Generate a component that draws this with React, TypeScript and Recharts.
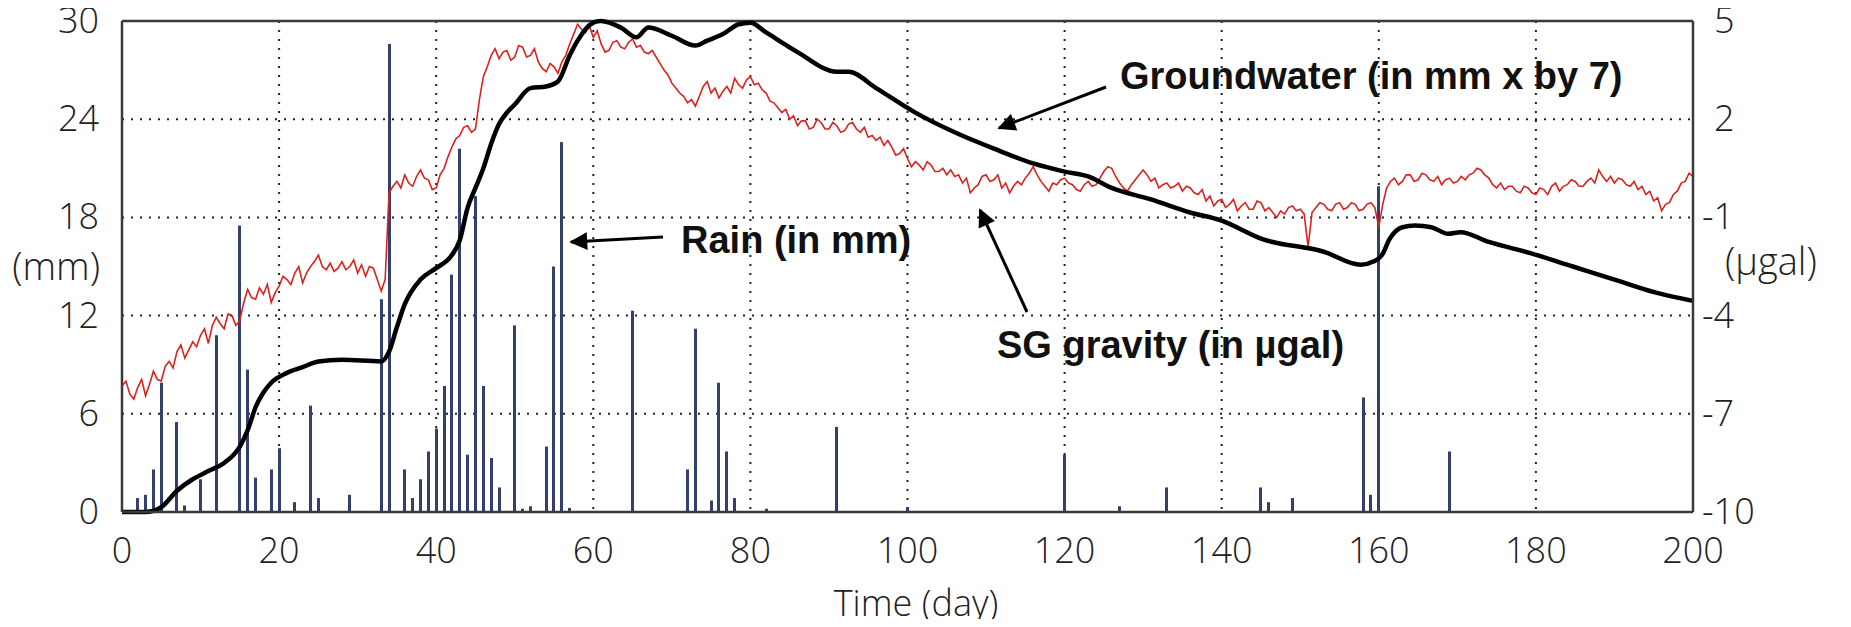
import { ComposedChart, Bar, Line, XAxis, YAxis, CartesianGrid, ReferenceLine } from 'recharts';

const W = 1851;
const H = 627;

const dayTicks = [0, 20, 40, 60, 80, 100, 120, 140, 160, 180, 200];
const mmTicks = [0, 6, 12, 18, 24, 30];
const ugalTicks = [-10, -7, -4, -1, 2, 5];

// daily rain (mm)
const rainDays = [
  2, 3, 4, 5, 7, 8, 10, 12, 15, 16, 17, 19, 20, 22, 24, 25, 29, 33, 34, 36,
  37, 38, 39, 40, 41, 42, 43, 44, 45, 46, 47, 48, 50, 51, 52, 54, 55, 56, 57, 65,
  72, 73, 75, 76, 77, 78, 82, 91, 100, 120, 127, 133, 145, 146, 149, 158, 159, 160, 169,
];
const rainMm = [
  0.85, 1.05, 2.6, 7.9, 5.5, 0.4, 2.0, 10.8, 17.5, 8.7, 2.1, 2.6, 3.9, 0.6, 6.5, 0.85, 1.05, 13.0, 28.6, 2.6,
  0.85, 2.0, 3.7, 5.1, 7.7, 14.5, 22.2, 3.5, 19.3, 7.7, 3.3, 1.5, 11.4, 0.2, 0.35, 4.0, 15.0, 22.6, 0.25, 12.3,
  2.6, 11.2, 0.7, 7.9, 3.7, 0.85, 0.2, 5.2, 0.3, 3.5, 0.35, 1.5, 1.5, 0.6, 0.85, 7.0, 1.05, 19.9, 3.7,
];

// groundwater (mm x 7, read on the left axis)
const gwDays = [
  0, 3, 5, 7, 9, 11, 13, 15, 16, 17, 18, 19, 21, 23, 25, 28, 33, 34, 35, 36, 38,
  40, 42, 43, 44, 45, 46, 47, 48, 49, 50, 52, 54, 55.5, 57, 58, 60, 61, 63.5, 65.5, 67,
  70, 73, 74.5, 76.5, 78.5, 80, 82, 86, 91, 92.5, 96, 101, 106, 111, 116, 120, 123, 126, 131, 136,
  140, 145, 153, 157.7, 159.3, 160.4, 161.4, 163, 164.6, 166.7, 168.8, 170.4, 174, 179.4, 184.7, 190, 195.3, 200,
];
const gwMm = [
  0, 0, 0.3, 1.3, 2.0, 2.5, 3.0, 4.0, 5.0, 6.4, 7.3, 7.9, 8.5, 8.85, 9.2, 9.3, 9.2, 9.8, 11.3, 12.7, 14.2,
  14.9, 15.7, 16.6, 18.6, 19.8, 21.0, 22.5, 23.7, 24.4, 24.9, 25.9, 26.0, 26.3, 27.9, 28.8, 29.9, 30.0, 29.6, 29.0, 29.6,
  29.1, 28.5, 28.8, 29.2, 29.8, 29.9, 29.3, 28.1, 26.9, 26.9, 25.9, 24.4, 23.2, 22.2, 21.3, 20.8, 20.5, 19.8, 19.1, 18.3,
  17.8, 16.7, 15.9, 15.1, 15.3, 15.7, 16.7, 17.4, 17.5, 17.4, 17.0, 17.1, 16.5, 15.8, 15.0, 14.2, 13.4, 12.9,
];

// SG gravity (µgal), every half day from day 0 to 200 (one row of 20 = 10 days)
const sgUgal = [
  -6.15, -6.0, -6.4, -6.55, -6.2, -5.95, -6.45, -6.1, -5.7, -5.95, -6.0, -5.55, -5.4, -5.6, -5.1, -4.9, -5.3, -5.05, -4.8, -4.95,
  -4.6, -4.4, -4.85, -4.3, -4.05, -4.25, -4.4, -3.95, -4.0, -4.3, -4.15, -3.6, -3.2, -3.45, -3.5, -3.15, -3.35, -3.05, -3.6, -3.3,
  -3.1, -2.8, -2.9, -3.05, -2.7, -2.5, -3.0, -2.7, -2.5, -2.35, -2.15, -2.5, -2.6, -2.4, -2.65, -2.55, -2.35, -2.6, -2.5, -2.3,
  -2.7, -2.45, -2.8, -2.5, -2.55, -2.9, -3.25, -2.9, -0.25, -0.05, 0.1, -0.1, 0.3, 0.05, -0.05, 0.25, 0.45, 0.2, 0.15, -0.15,
  -0.1, 0.3, 0.5, 0.85, 1.15, 1.4, 1.5, 1.75, 1.8, 1.6, 1.7, 2.6, 3.3, 3.6, 3.95, 4.15, 3.85, 4.05, 4.1, 3.8,
  3.9, 4.25, 4.2, 3.9, 3.95, 4.15, 3.75, 3.55, 3.45, 3.7, 3.6, 3.4, 3.75, 3.95, 4.3, 4.6, 4.9, 4.75, 4.65, 4.85,
  4.5, 4.7, 4.3, 4.05, 4.1, 4.35, 4.4, 4.2, 4.15, 4.35, 4.45, 4.2, 4.25, 4.05, 4.0, 4.1, 3.9, 3.7, 3.5, 3.35,
  3.1, 2.95, 2.8, 2.7, 2.5, 2.6, 2.4, 2.7, 3.0, 3.15, 2.8, 2.95, 2.65, 2.85, 3.0, 2.8, 3.25, 3.05, 2.95, 3.2,
  3.3, 3.05, 3.1, 2.9, 2.8, 2.55, 2.5, 2.35, 2.2, 2.3, 2.0, 2.1, 1.8, 1.95, 1.95, 1.7, 1.75, 2.0, 1.9, 1.7,
  1.7, 1.9, 1.8, 1.6, 1.65, 1.85, 1.9, 1.7, 1.6, 1.75, 1.45, 1.5, 1.35, 1.45, 1.2, 1.35, 1.15, 0.9, 0.95, 1.1,
  0.8, 0.55, 0.7, 0.6, 0.45, 0.7, 0.6, 0.4, 0.4, 0.5, 0.3, 0.45, 0.25, 0.3, 0.05, 0.2, -0.25, -0.1, 0.0, 0.25,
  0.3, 0.1, 0.15, 0.3, -0.1, 0.05, -0.25, -0.05, 0.1, 0.0, 0.2, 0.35, 0.55, 0.3, 0.1, -0.05, -0.2, 0.05, 0.0, 0.15,
  0.2, 0.05, 0.0, -0.15, -0.2, 0.0, 0.1, -0.05, 0.0, 0.2, 0.4, 0.55, 0.5, 0.25, 0.05, -0.1, -0.2, 0.0, 0.15, 0.3,
  0.45, 0.3, 0.1, 0.2, -0.1, 0.0, 0.05, -0.1, -0.05, 0.05, -0.2, -0.05, -0.1, -0.25, -0.3, -0.15, -0.5, -0.35, -0.65, -0.5,
  -0.45, -0.7, -0.6, -0.45, -0.8, -0.65, -0.55, -0.75, -0.75, -0.5, -0.55, -0.8, -0.7, -0.85, -1.0, -0.8, -0.9, -0.7, -0.65, -0.8,
  -0.75, -0.9, -1.9, -0.85, -0.7, -0.55, -0.6, -0.75, -0.8, -0.6, -0.55, -0.75, -0.7, -0.55, -0.6, -0.8, -0.75, -0.6, -0.55, -0.7,
  -1.3, -0.6, -0.1, 0.1, 0.2, 0.0, 0.1, 0.3, 0.3, 0.1, 0.15, 0.35, 0.3, 0.15, 0.1, 0.25, 0.0, 0.15, 0.2, 0.05,
  0.1, 0.25, 0.15, 0.3, 0.35, 0.5, 0.45, 0.3, 0.2, 0.0, -0.1, 0.05, -0.15, -0.05, -0.05, -0.2, -0.25, -0.05, -0.1, -0.25,
  -0.3, -0.1, -0.15, -0.3, -0.05, 0.05, -0.2, -0.05, 0.0, 0.15, 0.1, -0.05, -0.05, 0.1, 0.2, 0.05, 0.45, 0.25, 0.1, 0.25,
  0.05, 0.2, 0.15, 0.0, -0.05, 0.1, -0.15, -0.05, -0.3, -0.2, -0.5, -0.4, -0.8, -0.6, -0.55, -0.3, -0.2, 0.05, 0.1, 0.35,
  0.25,
];

const rainData = rainDays.map((day, i) => ({ day, rain: rainMm[i] }));
const gwData = gwDays.map((day, i) => ({ day, gw: gwMm[i] }));
const sgData = sgUgal.map((sg, i) => ({ day: i * 0.5, sg }));

const tickFont = "'Open Sans', 'Liberation Sans', sans-serif";
const boldFont = "'Liberation Sans', Arial, sans-serif";
const frame = '#3a3a3a';
const textColor = '#222';
const barColor = '#34406c';

const LeftTick = ({ x, y, payload }: any) => (
  <text x={x - 23} y={y + 12} textAnchor="end" fontSize={36} fontFamily={tickFont} fontWeight={300} fill={textColor}>
    {payload.value}
  </text>
);

const RightTick = ({ x, y, payload }: any) => (
  <text x={x + (payload.value > 0 ? 21 : 9)} y={y + 12} textAnchor="start" fontSize={36} fontFamily={tickFont} fontWeight={300} fill={textColor}>
    {payload.value}
  </text>
);

const BottomTick = ({ x, y, payload }: any) => (
  <text x={x} y={y + 51} textAnchor="middle" fontSize={36} fontFamily={tickFont} fontWeight={300} fill={textColor}>
    {payload.value}
  </text>
);

// thin rain stick, centred on the bar slot recharts gives
const RainStick = (props: any) => {
  const { x, y, width, height } = props;
  if (!height) return null;
  const cx = x + width / 2;
  return <rect x={Math.round(cx - 1.5)} y={y} width={3} height={height} fill={barColor} />;
};

export default function App() {
  return (
    <div style={{ position: 'relative', width: W, height: H, margin: -8 }}>
      <ComposedChart width={W} height={H} data={rainData} margin={{ top: 21, right: 0, bottom: 0, left: 0 }}>
        <CartesianGrid yAxisId="left" stroke="#222" strokeWidth={2} strokeDasharray="2 7" />
        <XAxis
          dataKey="day"
          type="number"
          domain={[0, 200]}
          ticks={dayTicks}
          height={115}
          tickSize={0}
          tickMargin={0}
          tick={<BottomTick />}
          axisLine={{ stroke: frame, strokeWidth: 2.5 }}
        />
        <YAxis
          yAxisId="left"
          domain={[0, 30]}
          ticks={mmTicks}
          width={122}
          tickSize={0}
          tickMargin={0}
          tick={<LeftTick />}
          axisLine={{ stroke: frame, strokeWidth: 2.5 }}
        />
        <YAxis
          yAxisId="right"
          orientation="right"
          domain={[-10, 5]}
          ticks={ugalTicks}
          width={158}
          tickSize={0}
          tickMargin={0}
          tick={<RightTick />}
          axisLine={{ stroke: frame, strokeWidth: 2.5 }}
        />
        <ReferenceLine yAxisId="left" y={30} stroke={frame} strokeWidth={2.5} />
        <Bar yAxisId="left" dataKey="rain" fill={barColor} barSize={3} shape={<RainStick />} isAnimationActive={false} />
        <Line
          yAxisId="right"
          data={sgData}
          dataKey="sg"
          type="linear"
          stroke="#d8231f"
          strokeWidth={1.6}
          dot={false}
          activeDot={false}
          isAnimationActive={false}
        />
        <Line
          yAxisId="left"
          data={gwData}
          dataKey="gw"
          type="monotone"
          stroke="#000"
          strokeWidth={4.5}
          dot={false}
          activeDot={false}
          isAnimationActive={false}
        />
      </ComposedChart>
      <svg width={W} height={H} style={{ position: 'absolute', left: 0, top: 0, pointerEvents: 'none' }}>
        <defs>
          <marker id="head" viewBox="0 0 10 10" refX="9" refY="5" markerWidth="7" markerHeight="6" orient="auto-start-reverse">
            <path d="M0,0 L10,5 L0,10 z" fill="#000" />
          </marker>
        </defs>
        <text x={916} y={616} textAnchor="middle" fontSize={36} fontFamily={tickFont} fontWeight={300} fill={textColor}>
          Time (day)
        </text>
        <text x={100} y={280} textAnchor="end" fontSize={38} fontFamily={tickFont} fontWeight={300} fill={textColor}>
          (mm)
        </text>
        <text x={1725} y={275} textAnchor="start" fontSize={38} fontFamily={tickFont} fontWeight={300} fill={textColor}>
          (µgal)
        </text>
        <text x={1120} y={89} fontSize={38} fontFamily={boldFont} fontWeight={700} fill="#111">
          Groundwater (in mm x by 7)
        </text>
        <text x={681} y={253} fontSize={38} fontFamily={boldFont} fontWeight={700} fill="#111">
          Rain (in mm)
        </text>
        <text x={997} y={358} fontSize={38} fontFamily={boldFont} fontWeight={700} fill="#111">
          SG gravity (in µgal)
        </text>
        <line x1={1106} y1={87} x2={999} y2={128} stroke="#000" strokeWidth={3} markerEnd="url(#head)" />
        <line x1={663} y1={237} x2={571} y2={242} stroke="#000" strokeWidth={3} markerEnd="url(#head)" />
        <line x1={1027} y1={312} x2={980} y2={210} stroke="#000" strokeWidth={3} markerEnd="url(#head)" />
      </svg>
    </div>
  );
}
